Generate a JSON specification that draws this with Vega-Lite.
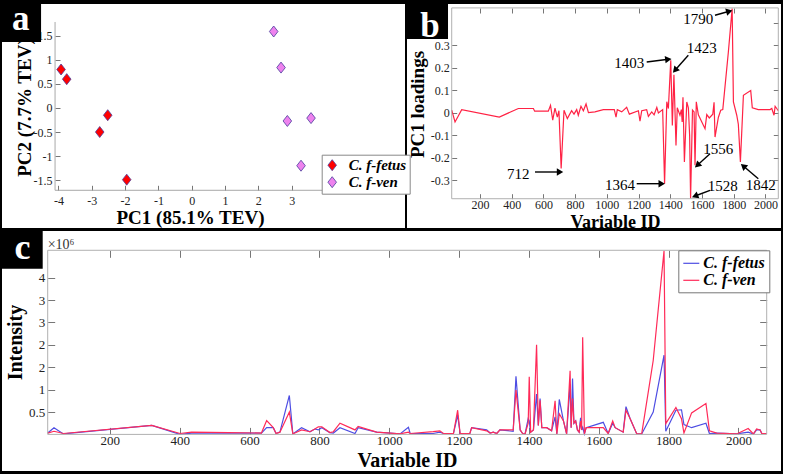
{
 "$schema": "https://vega.github.io/schema/vega-lite/v6.json",
 "background": "black",
 "padding": {"left": 2, "top": 2, "right": 2, "bottom": 3},
 "config": {
  "font": "Liberation Serif",
  "view": {"fill": "white", "stroke": null},
  "axis": {"domain": false, "grid": false, "format": "~r", "labelFont": "Liberation Serif", "labelColor": "#222", "tickColor": "#777", "tickWidth": 1, "titleFont": "Liberation Serif", "titleFontWeight": "bold", "titleColor": "#000", "labelFlush": false, "labelOverlap": false, "labelBound": false, "titleAlign": "center", "titleBaseline": "alphabetic", "labelExpr": "replace(datum.label, '\u2212', '-')"}
 },
 "spacing": 3,
 "bounds": "flush",
 "vconcat": [
  {
   "width": 779,
   "height": 224,
   "resolve": {"scale": {"x": "independent", "y": "independent"}, "axis": {"x": "independent", "y": "independent"}},
   "layer": [
    {
     "resolve": {"axis": {"x": "independent", "y": "independent"}},
     "layer": [
      {
       "data": {"values": [
        {"pc1": -3.92, "pc2": 0.8, "group": "C. f-fetus"},
        {"pc1": -3.75, "pc2": 0.6, "group": "C. f-fetus"},
        {"pc1": -2.52, "pc2": -0.15, "group": "C. f-fetus"},
        {"pc1": -2.76, "pc2": -0.5, "group": "C. f-fetus"},
        {"pc1": -1.95, "pc2": -1.49, "group": "C. f-fetus"},
        {"pc1": 2.46, "pc2": 1.59, "group": "C. f-ven"},
        {"pc1": 2.68, "pc2": 0.84, "group": "C. f-ven"},
        {"pc1": 2.87, "pc2": -0.27, "group": "C. f-ven"},
        {"pc1": 3.58, "pc2": -0.21, "group": "C. f-ven"},
        {"pc1": 3.28, "pc2": -1.2, "group": "C. f-ven"}
       ]},
       "mark": {"type": "point", "shape": "M0,-1L0.78,0L0,1L-0.78,0Z", "filled": true, "size": 121, "stroke": "#4a3c9c", "strokeWidth": 0.8, "opacity": 1},
       "encoding": {
        "x": {"field": "pc1", "type": "quantitative", "scale": {"domain": [-5.692, 17.681], "nice": false, "zero": false},
              "axis": {"orient": "bottom", "values": [-4, -3, -2, -1, 0, 1, 2, 3], "format": "~r", "offset": -37.7, "tickSize": -5, "labelPadding": 10, "labelFontSize": 12, "title": "PC1 (85.1% TEV)", "titleFontSize": 19, "titleX": 188, "titleY": 33}},
        "y": {"field": "pc2", "type": "quantitative", "scale": {"domain": [-2.495, 2.162], "nice": false, "zero": false},
              "axis": {"orient": "left", "values": [-1.5, -1, -0.5, 0, 0.5, 1, 1.5], "format": "~r", "offset": -53, "tickSize": -5, "labelPadding": 8, "labelFontSize": 12, "title": "PC2 (7.7% TEV)", "titleFontSize": 19, "titleX": -25, "titleY": 103, "titleAngle": -90}},
        "fill": {"field": "group", "type": "nominal", "scale": {"domain": ["C. f-fetus", "C. f-ven"], "range": ["#ff0000", "#ee82ee"]},
                 "legend": {"title": null, "orient": "none", "legendX": 319.7, "legendY": 150.7, "padding": 3, "rowPadding": 1, "labelOffset": 9, "labelFont": "Liberation Serif", "labelFontSize": 15, "labelFontWeight": "bold", "labelFontStyle": "italic", "labelColor": "#000", "strokeColor": "#888", "fillColor": "white", "symbolSize": 121, "symbolType": "M0,-1L0.78,0L0,1L-0.78,0Z", "symbolStrokeColor": "#4a3c9c", "symbolStrokeWidth": 0.8}}
       }
      },
      {
       "data": {"values": [
        {"x1": -4.1, "x2": -4.1, "y1": -1.711, "y2": 1.788},
        {"x1": -4.1, "x2": 6.4, "y1": -1.711, "y2": -1.711}
       ]},
       "mark": {"type": "rule", "color": "#a8a8a8", "strokeWidth": 1},
       "encoding": {
        "x": {"field": "x1", "type": "quantitative", "axis": null},
        "x2": {"field": "x2"},
        "y": {"field": "y1", "type": "quantitative", "axis": null},
        "y2": {"field": "y2"}
       }
      },
      {
       "data": {"values": [{"x1": -5.692, "x2": -4.52, "y1": 2.162, "y2": 1.372}]},
       "mark": {"type": "rect", "color": "black"},
       "encoding": {
        "x": {"field": "x1", "type": "quantitative", "axis": null},
        "x2": {"field": "x2"},
        "y": {"field": "y1", "type": "quantitative", "axis": null},
        "y2": {"field": "y2"}
       }
      },
      {
       "data": {"values": [{"x": -5.13, "y": 1.615, "t": "a"}]},
       "mark": {"type": "text", "color": "white", "fontSize": 35, "fontWeight": "bold", "align": "center", "baseline": "alphabetic"},
       "encoding": {
        "x": {"field": "x", "type": "quantitative", "axis": null},
        "y": {"field": "y", "type": "quantitative", "axis": null},
        "text": {"field": "t"}
       }
      }
     ]
    },
    {
     "resolve": {"axis": {"x": "independent", "y": "independent"}},
     "layer": [
      {
       "data": {"values": [{"x1": -272.4, "x2": -259.8, "y1": -0.5111, "y2": 0.4844}]},
       "mark": {"type": "rect", "color": "black"},
       "encoding": {
        "x": {"field": "x1", "type": "quantitative", "axis": null},
        "x2": {"field": "x2"},
        "y": {"field": "y1", "type": "quantitative", "axis": null},
        "y2": {"field": "y2"}
       }
      },
      {
       "data": {"values": [
        {"id":22,"v":0.013},{"id":43,"v":-0.04},{"id":85,"v":0.015},{"id":322,"v":-0.018},{"id":442,"v":0.02},{"id":537,"v":0.02},{"id":545,"v":0.008},{"id":631,"v":0.008},{"id":645,"v":0.034},{"id":659,"v":-0.032},{"id":673,"v":0.022},{"id":688,"v":-0.018},{"id":698,"v":0.01},{"id":712,"v":-0.247},{"id":730,"v":0.012},{"id":751,"v":-0.025},{"id":778,"v":0.01},{"id":793,"v":-0.005},{"id":810,"v":0.015},{"id":820,"v":-0.01},{"id":837,"v":0.03},{"id":852,"v":0.01},{"id":869,"v":0.04},{"id":884,"v":0.002},{"id":925,"v":0.005},{"id":978,"v":0.015},{"id":1047,"v":0.015},{"id":1058,"v":-0.018},{"id":1066,"v":0.015},{"id":1094,"v":0.005},{"id":1125,"v":0.025},{"id":1142,"v":-0.005},{"id":1199,"v":0.01},{"id":1209,"v":-0.036},{"id":1220,"v":0.01},{"id":1251,"v":0.015},{"id":1262,"v":-0.015},{"id":1283,"v":0.005},{"id":1298,"v":-0.008},{"id":1315,"v":0.025},{"id":1325,"v":0},{"id":1352,"v":0.015},{"id":1364,"v":-0.314},{"id":1378,"v":0.05},{"id":1388,"v":0.02},{"id":1403,"v":0.234},{"id":1413,"v":-0.055},{"id":1423,"v":0.17},{"id":1436,"v":-0.144},{"id":1444,"v":0.023},{"id":1461,"v":-0.01},{"id":1470,"v":0.015},{"id":1475,"v":-0.04},{"id":1480,"v":0.07},{"id":1489,"v":-0.218},{"id":1504,"v":0.049},{"id":1514,"v":0.023},{"id":1522,"v":-0.1},{"id":1528,"v":-0.38},{"id":1540,"v":0.013},{"id":1550,"v":0.005},{"id":1556,"v":-0.232},{"id":1564,"v":0.05},{"id":1577,"v":-0.008},{"id":1619,"v":-0.07},{"id":1630,"v":-0.007},{"id":1646,"v":-0.022},{"id":1668,"v":-0.005},{"id":1676,"v":0.048},{"id":1682,"v":-0.107},{"id":1703,"v":-0.02},{"id":1718,"v":0.012},{"id":1731,"v":0.015},{"id":1766,"v":0.27},{"id":1790,"v":0.464},{"id":1798,"v":0.049},{"id":1819,"v":-0.01},{"id":1829,"v":-0.05},{"id":1842,"v":-0.218},{"id":1861,"v":0.079},{"id":1907,"v":0.1},{"id":1917,"v":0.023},{"id":1955,"v":0.015},{"id":2029,"v":0.015},{"id":2040,"v":0.02},{"id":2054,"v":-0.01},{"id":2061,"v":0.03},{"id":2081,"v":0.01}
       ]},
       "mark": {"type": "line", "color": "#ff2244", "strokeWidth": 1.2},
       "encoding": {
        "x": {"field": "id", "type": "quantitative", "scale": {"domain": [-2813.1, 2098.0], "nice": false, "zero": false},
              "axis": {"orient": "bottom", "values": [200, 400, 600, 800, 1000, 1200, 1400, 1600, 1800, 2000], "format": "~r", "offset": -29.3, "tickSize": -5, "labelPadding": 5.5, "labelFontSize": 12, "title": "Variable ID", "titleFontSize": 18, "titleX": 613, "titleY": 28.3}},
        "y": {"field": "v", "type": "quantitative", "scale": {"domain": [-0.5111, 0.4844], "nice": false, "zero": false},
              "axis": {"orient": "left", "values": [-0.3, -0.2, -0.1, 0, 0.1, 0.2, 0.3], "format": "~r", "offset": -449.7, "tickSize": -5, "labelPadding": 7.5, "labelFontSize": 12, "title": "PC1 loadings", "titleFontSize": 19, "titleX": -28.7, "titleY": 100, "titleAngle": -90}}
       }
      },
      {
       "data": {"values": [{"x1": 22, "x2": 2081, "y1": -0.381, "y2": 0.467}]},
       "mark": {"type": "rect", "filled": false, "stroke": "#b0b0b0", "strokeWidth": 1},
       "encoding": {
        "x": {"field": "x1", "type": "quantitative", "axis": {"orient": "top", "values": [200, 400, 600, 800, 1000, 1200, 1400, 1600, 1800, 2000], "offset": -4, "tickSize": -5, "labels": false, "title": null}},
        "x2": {"field": "x2"},
        "y": {"field": "y1", "type": "quantitative", "axis": {"orient": "right", "values": [-0.3, -0.2, -0.1, 0, 0.1, 0.2, 0.3, 0.4], "offset": -2.7, "tickSize": -5, "labels": false, "title": null}},
        "y2": {"field": "y2"}
       }
      },
      {
       "data": {"values": [
        {"label": "712", "x1": 547.2, "y1": -0.2622, "x2": 704.8, "y2": -0.2622, "tx": 441.9, "ty": -0.2698},
        {"label": "1364", "x1": 1188.3, "y1": -0.3142, "x2": 1345.9, "y2": -0.3142, "tx": 1083, "ty": -0.3213},
        {"label": "1403", "x1": 1251.4, "y1": 0.2267, "x2": 1387.6, "y2": 0.2387, "tx": 1141.7, "ty": 0.2222},
        {"label": "1423", "x1": 1513.6, "y1": 0.2564, "x2": 1429.8, "y2": 0.1898, "tx": 1598.1, "ty": 0.2902},
        {"label": "1790", "x1": 1681.9, "y1": 0.4342, "x2": 1772.1, "y2": 0.452, "tx": 1576.7, "ty": 0.4164},
        {"label": "1556", "x1": 1650.4, "y1": -0.1809, "x2": 1570.4, "y2": -0.2324, "tx": 1702.8, "ty": -0.1587},
        {"label": "1528", "x1": 1650.4, "y1": -0.3436, "x2": 1555.9, "y2": -0.3689, "tx": 1730.5, "ty": -0.3244},
        {"label": "1842", "x1": 1954.9, "y1": -0.292, "x2": 1860.3, "y2": -0.2356, "tx": 1970.1, "ty": -0.3213}
       ]},
       "layer": [
        {
         "mark": {"type": "rule", "color": "black", "strokeWidth": 1.4},
         "encoding": {
          "x": {"field": "x1", "type": "quantitative", "axis": null},
          "x2": {"field": "x2"},
          "y": {"field": "y1", "type": "quantitative", "axis": null},
          "y2": {"field": "y2"}
         }
        },
        {
         "transform": [{"calculate": "atan2(-(datum.y2 - datum.y1) * 225, (datum.x2 - datum.x1) * 0.15862) * 180 / PI", "as": "ang"}],
         "mark": {"type": "point", "shape": "triangle-right", "filled": true, "color": "black", "size": 55, "opacity": 1},
         "encoding": {
          "x": {"field": "x2", "type": "quantitative", "axis": null},
          "y": {"field": "y2", "type": "quantitative", "axis": null},
          "angle": {"field": "ang", "type": "quantitative", "scale": null}
         }
        },
        {
         "mark": {"type": "text", "color": "black", "fontSize": 15, "align": "center", "baseline": "middle"},
         "encoding": {
          "x": {"field": "tx", "type": "quantitative", "axis": null},
          "y": {"field": "ty", "type": "quantitative", "axis": null},
          "text": {"field": "label"}
         }
        }
       ]
      },
      {
       "data": {"values": [{"x1": -259.8, "x2": -1.3, "y1": 0.4844, "y2": 0.3289}]},
       "mark": {"type": "rect", "color": "black"},
       "encoding": {
        "x": {"field": "x1", "type": "quantitative", "axis": null},
        "x2": {"field": "x2"},
        "y": {"field": "y1", "type": "quantitative", "axis": null},
        "y2": {"field": "y2"}
       }
      },
      {
       "data": {"values": [{"x": -114.8, "y": 0.3378, "t": "b"}]},
       "mark": {"type": "text", "color": "white", "fontSize": 35, "fontWeight": "bold", "align": "center", "baseline": "alphabetic"},
       "encoding": {
        "x": {"field": "x", "type": "quantitative", "axis": null},
        "y": {"field": "y", "type": "quantitative", "axis": null},
        "text": {"field": "t"}
       }
      }
     ]
    }
   ]
  },
  {
   "width": 779,
   "height": 240,
   "resolve": {"axis": {"x": "independent", "y": "independent"}},
   "layer": [
    {
     "data": {"values": [
      {"id":22,"fetus":0.03,"ven":0.03},{"id":40,"fetus":0.15,"ven":0.07},{"id":67,"fetus":0.01,"ven":0.02},{"id":320,"fetus":0.2,"ven":0.2},{"id":401,"fetus":0,"ven":0.02},{"id":434,"fetus":0.03,"ven":0.05},{"id":540,"fetus":0.03,"ven":0.04},{"id":634,"fetus":0.03,"ven":0.03},{"id":649,"fetus":0.15,"ven":0.31},{"id":668,"fetus":0.15,"ven":0.15},{"id":676,"fetus":0.02,"ven":0.02},{"id":687,"fetus":0.05,"ven":0.05},{"id":714,"fetus":0.87,"ven":0.5},{"id":724,"fetus":0.01,"ven":0.01},{"id":749,"fetus":0.15,"ven":0.1},{"id":773,"fetus":0.06,"ven":0.06},{"id":787,"fetus":0.12,"ven":0.12},{"id":797,"fetus":0.1,"ven":0.17},{"id":807,"fetus":0.15,"ven":0.17},{"id":830,"fetus":0.04,"ven":0.04},{"id":840,"fetus":0.03,"ven":0.06},{"id":859,"fetus":0.15,"ven":0.25},{"id":902,"fetus":0.02,"ven":0.1},{"id":911,"fetus":0.15,"ven":0.18},{"id":964,"fetus":0.05,"ven":0.05},{"id":1031,"fetus":0.01,"ven":0.01},{"id":1055,"fetus":0.16,"ven":0.05},{"id":1060,"fetus":0.02,"ven":0.02},{"id":1126,"fetus":0.02,"ven":0.06},{"id":1145,"fetus":0.05,"ven":0.08},{"id":1155,"fetus":0.02,"ven":0.02},{"id":1184,"fetus":0.02,"ven":0.02},{"id":1196,"fetus":0.43,"ven":0.54},{"id":1203,"fetus":0.02,"ven":0.02},{"id":1231,"fetus":0.02,"ven":0.02},{"id":1236,"fetus":0.15,"ven":0.15},{"id":1279,"fetus":0.1,"ven":0.08},{"id":1289,"fetus":0.03,"ven":0.03},{"id":1298,"fetus":0.05,"ven":0.05},{"id":1308,"fetus":0.02,"ven":0.02},{"id":1317,"fetus":0.1,"ven":0.1},{"id":1355,"fetus":0.07,"ven":0.1},{"id":1363,"fetus":1.3,"ven":0.99},{"id":1375,"fetus":0.1,"ven":0.1},{"id":1382,"fetus":0.02,"ven":0.02},{"id":1389,"fetus":0.01,"ven":0.01},{"id":1398,"fetus":0.35,"ven":0.25},{"id":1401,"fetus":0.3,"ven":1.29},{"id":1405,"fetus":0.05,"ven":0.05},{"id":1413,"fetus":0.1,"ven":0.1},{"id":1422,"fetus":0.9,"ven":2.0},{"id":1427,"fetus":0.2,"ven":0.2},{"id":1432,"fetus":0.8,"ven":0.76},{"id":1437,"fetus":0.15,"ven":0.15},{"id":1451,"fetus":0.15,"ven":0.15},{"id":1465,"fetus":0.08,"ven":0.08},{"id":1475,"fetus":0.39,"ven":0.75},{"id":1480,"fetus":0.01,"ven":0.01},{"id":1487,"fetus":0.78,"ven":0.46},{"id":1499,"fetus":0.3,"ven":0.3},{"id":1508,"fetus":0.01,"ven":0.01},{"id":1518,"fetus":1.13,"ven":1.42},{"id":1521,"fetus":0.15,"ven":0.15},{"id":1525,"fetus":1.25,"ven":0.8},{"id":1529,"fetus":0.25,"ven":0.25},{"id":1534,"fetus":0.3,"ven":0.3},{"id":1539,"fetus":0.1,"ven":0.1},{"id":1544,"fetus":0.05,"ven":0.05},{"id":1548,"fetus":0.37,"ven":0.3},{"id":1551,"fetus":0.1,"ven":0.1},{"id":1554,"fetus":0.16,"ven":2.17},{"id":1559,"fetus":0.01,"ven":0.01},{"id":1564,"fetus":0.15,"ven":0.15},{"id":1613,"fetus":0.27,"ven":0.15},{"id":1627,"fetus":0.02,"ven":0.02},{"id":1640,"fetus":0.25,"ven":0.3},{"id":1647,"fetus":0.15,"ven":0.15},{"id":1670,"fetus":0.05,"ven":0.05},{"id":1678,"fetus":0.62,"ven":0.54},{"id":1690,"fetus":0.35,"ven":0.35},{"id":1709,"fetus":0.01,"ven":0.01},{"id":1723,"fetus":0.01,"ven":0.01},{"id":1756,"fetus":0.5,"ven":1.65},{"id":1787,"fetus":1.77,"ven":4.1},{"id":1792,"fetus":0.07,"ven":0.24},{"id":1821,"fetus":0.54,"ven":0.6},{"id":1837,"fetus":0.55,"ven":0.35},{"id":1844,"fetus":0.22,"ven":0.03},{"id":1866,"fetus":0.15,"ven":0.48},{"id":1907,"fetus":0.25,"ven":0.69},{"id":1917,"fetus":0.02,"ven":0.08},{"id":1938,"fetus":0.03,"ven":0.03},{"id":1995,"fetus":0.01,"ven":0.01},{"id":2028,"fetus":0.05,"ven":0.13},{"id":2043,"fetus":0.01,"ven":0.01},{"id":2052,"fetus":0.1,"ven":0.12},{"id":2062,"fetus":0.1,"ven":0.1},{"id":2067,"fetus":0.02,"ven":0.02},{"id":2081,"fetus":0.02,"ven":0.02}
     ]},
     "transform": [{"fold": ["fetus", "ven"], "as": ["series", "value"]}],
     "mark": {"type": "line", "strokeWidth": 1.2},
     "encoding": {
      "x": {"field": "id", "type": "quantitative", "scale": {"domain": [-108.87, 2121.95], "nice": false, "zero": false},
            "axis": {"orient": "bottom", "values": [200, 400, 600, 800, 1000, 1200, 1400, 1600, 1800, 2000], "format": "~r", "offset": -36.6, "tickSize": -7, "labelPadding": 7.5, "labelFontSize": 13, "title": "Variable ID", "titleFontSize": 20, "titleX": 405, "titleY": 32}},
      "y": {"field": "value", "type": "quantitative", "scale": {"domain": [-0.8175, 4.543], "nice": false, "zero": false},
            "axis": {"orient": "left", "values": [0.5, 1, 1.5, 2, 2.5, 3, 3.5], "format": "~r", "offset": -45.7, "tickSize": -7, "labelPadding": 10, "labelFontSize": 13, "title": "Intensity", "titleFontSize": 20, "titleX": -26.2, "titleY": 111, "titleAngle": -90}},
      "color": {"field": "series", "type": "nominal", "scale": {"domain": ["fetus", "ven"], "range": ["#4d4de3", "#ff2a58"]},
                "legend": {"title": null, "orient": "none", "legendX": 676.3, "legendY": 246.3, "padding": 4, "rowPadding": 0, "labelOffset": 3, "symbolType": "stroke", "symbolSize": 256, "symbolStrokeWidth": 1.2, "labelFont": "Liberation Serif", "labelFontSize": 16, "labelFontWeight": "bold", "labelFontStyle": "italic", "labelColor": "#000", "strokeColor": "#777", "fillColor": "white", "labelExpr": "datum.label == 'fetus' ? 'C. f-fetus' : 'C. f-ven'"}}
     }
    },
    {
     "data": {"values": [{"x1": 22, "x2": 2081, "y1": 0, "y2": 4.112}]},
     "mark": {"type": "rect", "filled": false, "stroke": "#b0b0b0", "strokeWidth": 1},
     "encoding": {
      "x": {"field": "x1", "type": "quantitative", "axis": {"orient": "top", "values": [200, 400, 600, 800, 1000, 1200, 1400, 1600, 1800, 2000], "offset": -19.3, "tickSize": -7, "labels": false, "title": null}},
      "x2": {"field": "x2"},
      "y": {"field": "y1", "type": "quantitative", "axis": {"orient": "right", "values": [0.5, 1, 1.5, 2, 2.5, 3, 3.5], "offset": -14.3, "tickSize": -7, "labels": false, "title": null}},
      "y2": {"field": "y2"}
     }
    },
    {
     "data": {"values": [{"x1": -108.87, "x2": 7.7, "y1": 4.543, "y2": 3.701}]},
     "mark": {"type": "rect", "color": "black"},
     "encoding": {
      "x": {"field": "x1", "type": "quantitative", "axis": null},
      "x2": {"field": "x2"},
      "y": {"field": "y1", "type": "quantitative", "axis": null},
      "y2": {"field": "y2"}
     }
    },
    {
     "data": {"values": [{"x": -50.2, "y": 3.918, "t": "c"}]},
     "mark": {"type": "text", "color": "white", "fontSize": 36, "fontWeight": "bold", "align": "center", "baseline": "alphabetic"},
     "encoding": {
      "x": {"field": "x", "type": "quantitative", "axis": null},
      "y": {"field": "y", "type": "quantitative", "axis": null},
      "text": {"field": "t"}
     }
    },
    {
     "data": {"values": [{"x": 22, "y": 4.15, "t": "×10⁶"}]},
     "mark": {"type": "text", "color": "#333", "fontSize": 14, "align": "left", "baseline": "alphabetic"},
     "encoding": {
      "x": {"field": "x", "type": "quantitative", "axis": null},
      "y": {"field": "y", "type": "quantitative", "axis": null},
      "text": {"field": "t"}
     }
    }
   ]
  }
 ]
}
